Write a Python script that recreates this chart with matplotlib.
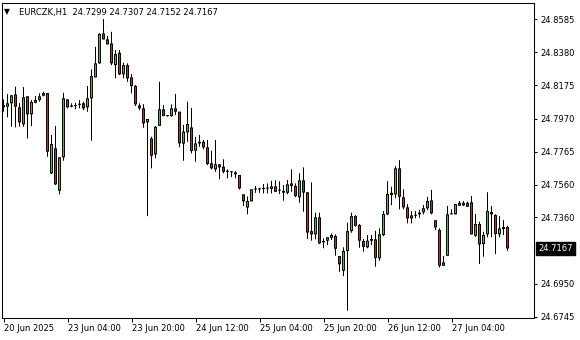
import matplotlib
matplotlib.use("Agg")
import matplotlib.pyplot as plt
import numpy as np
import pandas as pd

symbol = "EURCZK,H1"
start_time = "2025-06-20 12:00"

opens = [24.8039, 24.8043, 24.8064, 24.8119, 24.8039, 24.7934, 24.8107, 24.7996, 24.8067, 24.8084,
         24.8111, 24.8127, 24.7631, 24.7786, 24.7524, 24.7730, 24.8088, 24.8051, 24.8051, 24.8055,
         24.8064, 24.8039, 24.8095, 24.8224, 24.8311, 24.8496, 24.8459, 24.8434, 24.8300, 24.8376,
         24.8243, 24.8300, 24.8224, 24.8171, 24.8051, 24.8033, 24.7946, 24.7847, 24.7748, 24.7925,
         24.8027, 24.7985, 24.7985, 24.8033, 24.8012, 24.7815, 24.7884, 24.7915, 24.7771, 24.7826,
         24.7826, 24.7792, 24.7693, 24.7656, 24.7687, 24.7672, 24.7641, 24.7637, 24.7637, 24.7621,
         24.7501, 24.7420, 24.7458, 24.7532, 24.7532, 24.7534, 24.7538, 24.7535, 24.7551, 24.7525,
         24.7522, 24.7511, 24.7569, 24.7553, 24.7483, 24.7588, 24.7514, 24.7274, 24.7254, 24.7359,
         24.7213, 24.7215, 24.7233, 24.7244, 24.7120, 24.7029, 24.7151, 24.7274, 24.7367, 24.7312,
         24.7213, 24.7174, 24.7225, 24.7223, 24.7106, 24.7250, 24.7378, 24.7497, 24.7501, 24.7662,
         24.7483, 24.7421, 24.7353, 24.7369, 24.7378, 24.7390, 24.7415, 24.7464, 24.7341, 24.7281,
         24.7060, 24.7122, 24.7378, 24.7378, 24.7449, 24.7433, 24.7449, 24.7452, 24.7245, 24.7318,
         24.7194, 24.7254, 24.7392, 24.7373, 24.7254, 24.7299, 24.7299]
highs = [24.8088, 24.8121, 24.8115, 24.8166, 24.8066, 24.8164, 24.8109, 24.8084, 24.8109, 24.8125,
         24.8135, 24.8127, 24.7868, 24.7923, 24.7730, 24.8129, 24.8088, 24.8064, 24.8067, 24.8084,
         24.8074, 24.8171, 24.8274, 24.8413, 24.8498, 24.8585, 24.8480, 24.8506, 24.8393, 24.8393,
         24.8315, 24.8311, 24.8245, 24.8177, 24.8064, 24.8059, 24.7967, 24.7857, 24.7923, 24.8197,
         24.8053, 24.7988, 24.8057, 24.8121, 24.8012, 24.7930, 24.8074, 24.8036, 24.7857, 24.7868,
         24.7837, 24.7837, 24.7771, 24.7837, 24.7687, 24.7718, 24.7656, 24.7645, 24.7645, 24.7621,
         24.7501, 24.7488, 24.7532, 24.7553, 24.7542, 24.7565, 24.7569, 24.7585, 24.7588, 24.7582,
         24.7559, 24.7590, 24.7656, 24.7569, 24.7631, 24.7668, 24.7514, 24.7575, 24.7388, 24.7388,
         24.7229, 24.7236, 24.7260, 24.7254, 24.7120, 24.7174, 24.7326, 24.7388, 24.7373, 24.7318,
         24.7225, 24.7250, 24.7250, 24.7276, 24.7291, 24.7398, 24.7583, 24.7548, 24.7676, 24.7713,
         24.7532, 24.7441, 24.7398, 24.7398, 24.7404, 24.7435, 24.7486, 24.7528, 24.7341, 24.7291,
         24.7120, 24.7429, 24.7409, 24.7441, 24.7460, 24.7460, 24.7456, 24.7491, 24.7380, 24.7332,
         24.7270, 24.7514, 24.7429, 24.7378, 24.7367, 24.7342, 24.7307]
lows = [24.8012, 24.7977, 24.7919, 24.7915, 24.7919, 24.7919, 24.7847, 24.7923, 24.8064, 24.8074,
        24.8107, 24.7734, 24.7627, 24.7559, 24.7501, 24.7709, 24.8033, 24.8039, 24.8028, 24.8033,
        24.8022, 24.8012, 24.7833, 24.8224, 24.8307, 24.8459, 24.8428, 24.8300, 24.8218, 24.8239,
        24.8218, 24.8197, 24.8125, 24.8047, 24.8022, 24.7913, 24.7367, 24.7662, 24.7724, 24.7925,
        24.7985, 24.7982, 24.7981, 24.7991, 24.7792, 24.7709, 24.7826, 24.7755, 24.7703, 24.7795,
        24.7779, 24.7682, 24.7656, 24.7641, 24.7594, 24.7631, 24.7600, 24.7608, 24.7600, 24.7532,
        24.7429, 24.7378, 24.7458, 24.7511, 24.7511, 24.7507, 24.7507, 24.7507, 24.7517, 24.7503,
        24.7462, 24.7503, 24.7517, 24.7483, 24.7449, 24.7394, 24.7225, 24.7215, 24.7223, 24.7194,
        24.7168, 24.7188, 24.7219, 24.7122, 24.7023, 24.6996, 24.6782, 24.7264, 24.7301, 24.7171,
        24.7147, 24.7168, 24.7188, 24.7054, 24.7091, 24.7244, 24.7373, 24.7435, 24.7477, 24.7409,
        24.7409, 24.7322, 24.7322, 24.7353, 24.7357, 24.7378, 24.7404, 24.7378, 24.7281, 24.7050,
        24.7060, 24.7122, 24.7378, 24.7378, 24.7431, 24.7429, 24.7425, 24.7254, 24.7239, 24.7071,
        24.7116, 24.7236, 24.7236, 24.7132, 24.7236, 24.7250, 24.7152]
closes = [24.8053, 24.8064, 24.8113, 24.8043, 24.7946, 24.8101, 24.7996, 24.8072, 24.8084, 24.8107,
          24.8127, 24.7765, 24.7812, 24.7563, 24.7730, 24.8095, 24.8039, 24.8043, 24.8047, 24.8059,
          24.8033, 24.8095, 24.8232, 24.8311, 24.8492, 24.8459, 24.8428, 24.8311, 24.8368, 24.8243,
          24.8300, 24.8218, 24.8171, 24.8057, 24.8033, 24.7940, 24.7967, 24.7740, 24.7919, 24.8027,
          24.7985, 24.7985, 24.8033, 24.8012, 24.7816, 24.7889, 24.7936, 24.7769, 24.7816, 24.7816,
          24.7792, 24.7689, 24.7662, 24.7687, 24.7668, 24.7641, 24.7641, 24.7637, 24.7625, 24.7538,
          24.7458, 24.7460, 24.7532, 24.7531, 24.7533, 24.7534, 24.7537, 24.7551, 24.7517, 24.7524,
          24.7512, 24.7563, 24.7553, 24.7491, 24.7588, 24.7512, 24.7265, 24.7254, 24.7359, 24.7198,
          24.7205, 24.7236, 24.7250, 24.7165, 24.7069, 24.7151, 24.7274, 24.7367, 24.7307, 24.7215,
          24.7177, 24.7215, 24.7215, 24.7109, 24.7254, 24.7380, 24.7503, 24.7511, 24.7662, 24.7486,
          24.7421, 24.7353, 24.7371, 24.7370, 24.7388, 24.7415, 24.7460, 24.7384, 24.7297, 24.7060,
          24.7081, 24.7378, 24.7378, 24.7441, 24.7431, 24.7449, 24.7425, 24.7254, 24.7318, 24.7192,
          24.7250, 24.7398, 24.7378, 24.7256, 24.7291, 24.7287, 24.7167]

ytick_labels = ["24.8585", "24.8380", "24.8175", "24.7970", "24.7765",
                "24.7560", "24.7360", "24.6950", "24.6745"]
xtick_times = ["2025-06-20 12:00", "2025-06-23 04:00", "2025-06-23 20:00", "2025-06-24 12:00",
               "2025-06-25 04:00", "2025-06-25 20:00", "2025-06-26 12:00", "2025-06-27 04:00"]
xtick_labels = ["20 Jun 2025", "23 Jun 04:00", "23 Jun 20:00", "24 Jun 12:00",
                "25 Jun 04:00", "25 Jun 20:00", "26 Jun 12:00", "27 Jun 04:00"]

UP_COLOR = "#32C832"
DOWN_COLOR = "#E61E1E"

o = np.array(opens); h = np.array(highs); l = np.array(lows); c = np.array(closes)
n = len(o)
x = np.arange(n)

# hourly bar times, skipping weekends
times = []
t = pd.Timestamp(start_time)
while len(times) < n:
    if t.weekday() < 5:
        times.append(t)
    t += pd.Timedelta(hours=1)
time_index = {tt: i for i, tt in enumerate(times)}

W, H = 580, 340
AX_W, AX_H = 532, 315
fig = plt.figure(figsize=(W / 100, H / 100), dpi=100)
fig.patch.set_facecolor("white")
ax = fig.add_axes([2 / W, 22 / H, AX_W / W, AX_H / H])
ax.set_facecolor("white")

ymin, ymax = 24.67372, 24.86839
ax.set_xlim(-0.375, -0.375 + AX_W / 4)
ax.set_ylim(ymin, ymax)
py = (ymax - ymin) / AX_H  # one pixel in price units

wicks = ax.vlines(x, l, h, color="black", linewidth=0.72, zorder=2)
wicks.set_snap(False)
up = c >= o
body_bot = np.minimum(o, c)
body_h = np.abs(c - o)
outer_h = np.maximum(body_h, py)
outer = ax.bar(x, outer_h, bottom=body_bot, width=0.75, color="black", linewidth=0, zorder=3)
inner_h = body_h - 2 * py
m = inner_h > 0
inner_up = ax.bar(x[m & up], inner_h[m & up], bottom=body_bot[m & up] + py, width=0.3,
                  color=UP_COLOR, linewidth=0, zorder=4)
inner_dn = ax.bar(x[m & ~up], inner_h[m & ~up], bottom=body_bot[m & ~up] + py, width=0.3,
                  color=DOWN_COLOR, linewidth=0, zorder=4)
for cont in (outer, inner_up, inner_dn):
    for p in cont:
        p.set_snap(False)

for s in ax.spines.values():
    s.set_color("black")
    s.set_linewidth(0.75)

ax.yaxis.tick_right()
ax.set_yticks([float(v) for v in ytick_labels])
ax.set_yticklabels(ytick_labels)
ax.tick_params(axis="y", length=2.5, width=0.75, pad=2, labelsize=6, colors="black",
               direction="out")

xt = [time_index[pd.Timestamp(s)] for s in xtick_times]
ax.set_xticks(xt)
ax.set_xticklabels(xtick_labels)
for lab in ax.get_xticklabels():
    lab.set_horizontalalignment("left")
ax.tick_params(axis="x", length=3, width=0.75, pad=1.5, labelsize=6, colors="black",
               direction="out")

# header
header = f"{symbol}  {o[-1]:.4f} {h[-1]:.4f} {l[-1]:.4f} {c[-1]:.4f}"
fig.text(19 / W, 1 - 15.3 / H, header, fontsize=6, color="black", va="baseline", ha="left")
fig.text(4 / W, 1 - 14 / H, "\u25BC", fontsize=5.5, color="black", va="baseline", ha="left")

# current price label
ax.annotate(f"{c[-1]:.4f}", xy=(1, c[-1]), xycoords=("axes fraction", "data"),
            xytext=(4, 0), textcoords="offset pixels", va="center", ha="left",
            fontsize=6, color="white", annotation_clip=False,
            bbox=dict(boxstyle="square,pad=0.25", fc="black", ec="black"))

fig.savefig("out.png", dpi=100)
